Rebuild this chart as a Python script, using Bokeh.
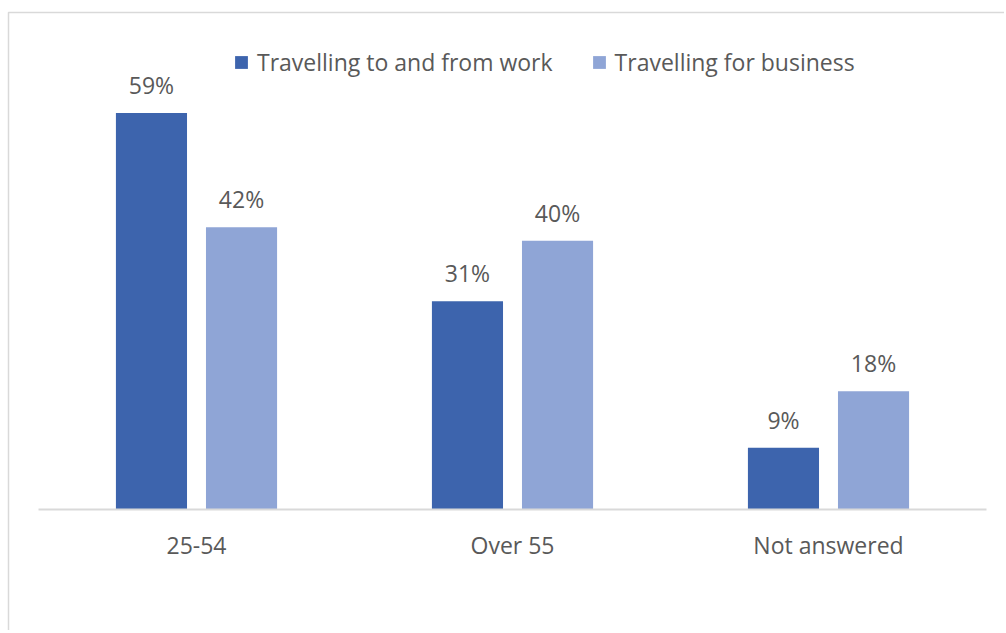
from bokeh.plotting import figure
from bokeh.models import ColumnDataSource, Range1d, Legend, LegendItem, LabelSet, BoxAnnotation
from bokeh.core.properties import value
from bokeh.transform import dodge
from bokeh.embed import file_html
from bokeh.resources import INLINE

categories = ["25-54", "Over 55", "Not answered"]
series_names = ["Travelling to and from work", "Travelling for business"]
work_values = [59.0, 31.0, 9.2]
business_values = [42.0, 40.0, 17.6]

DARK = "#3d64ad"
LIGHT = "#8fa5d6"
TEXT = "#595959"
FONT = "Open Sans"
FS = "23px"

W, H = 1004, 630
PLOT_LEFT, CAT_PX = 38, 316        # category band layout (px)
BASE_PX, PX_PER_UNIT = 509, 6.72   # baseline position and vertical scale (px)

xc = [i + 0.5 for i in range(len(categories))]
src = ColumnDataSource(data=dict(
    x=xc,
    cat=categories,
    zero=[0] * len(categories),
    work=work_values,
    business=business_values,
    work_lbl=[f"{v:.0f}%" for v in work_values],
    business_lbl=[f"{v:.0f}%" for v in business_values],
))

p = figure(
    width=W, height=H,
    x_range=Range1d(-PLOT_LEFT / CAT_PX, (W - PLOT_LEFT) / CAT_PX),
    y_range=Range1d(-(H - BASE_PX) / PX_PER_UNIT, BASE_PX / PX_PER_UNIT),
    x_axis_location=None, y_axis_location=None,
    output_backend="svg", toolbar_location=None,
    min_border=0, min_border_left=0, min_border_right=0,
    min_border_top=0, min_border_bottom=0,
)
p.background_fill_color = "white"
p.border_fill_color = "white"
p.outline_line_color = None
p.grid.visible = False

# outer chart-area border (top and left visible in the view)
p.add_layout(BoxAnnotation(left=8, right=5000, top=12, bottom=5000,
                           left_units="canvas", right_units="canvas",
                           top_units="canvas", bottom_units="canvas",
                           fill_alpha=0, line_color="#d9d9d9", line_alpha=1,
                           line_width=1.5, level="underlay"))

off = 0.1425
bw = 0.225
r1 = p.vbar(x=dodge("x", -off), top="work", width=bw, source=src,
            fill_color=DARK, line_color=None)
r2 = p.vbar(x=dodge("x", off), top="business", width=bw, source=src,
            fill_color=LIGHT, line_color=None)

# category baseline
p.segment(x0=[0], y0=[0], x1=[len(categories)], y1=[0], line_color="#d9d9d9", line_width=2)

for col, lbl, o in (("work", "work_lbl", -off), ("business", "business_lbl", off)):
    p.add_layout(LabelSet(x=dodge("x", o), y=col, text=lbl, source=src,
                          y_offset=19, text_align="center", text_baseline="alphabetic",
                          text_font=value(FONT), text_font_size=value(FS),
                          text_color=value(TEXT)))

# category labels
p.add_layout(LabelSet(x="x", y="zero", text="cat", source=src,
                      y_offset=-44, text_align="center", text_baseline="alphabetic",
                      text_font=value(FONT), text_font_size=value(FS),
                      text_color=value(TEXT)))

legend = Legend(items=[LegendItem(label=series_names[0], renderers=[r1]),
                       LegendItem(label=series_names[1], renderers=[r2])],
                location=(233, 552), orientation="horizontal")
legend.label_text_font = FONT
legend.label_text_font_size = FS
legend.label_text_color = TEXT
legend.glyph_width = 16
legend.glyph_height = 16
legend.label_standoff = 8
legend.spacing = 38
legend.padding = 0
legend.margin = 0
legend.border_line_color = None
legend.background_fill_alpha = 0
p.add_layout(legend, "center")

open("out.html", "w").write(file_html(p, INLINE))
